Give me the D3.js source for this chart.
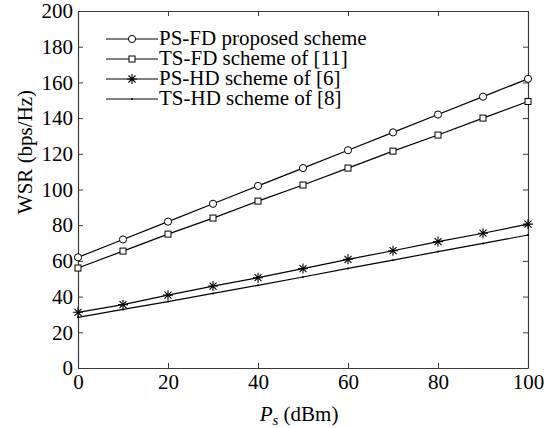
<!DOCTYPE html>
<html>
<head>
<meta charset="utf-8">
<script src="https://cdn.jsdelivr.net/npm/d3@7"></script>
<style>
  body { margin: 0; background: #fff; }
  svg text { font-family: "Liberation Serif", "Times New Roman", serif !important; fill: #000; }
</style>
</head>
<body>
<div id="chart"></div>
<script>
// data
const ps = [0, 10, 20, 30, 40, 50, 60, 70, 80, 90, 100];
const psFD = [62, 72, 82, 92, 102, 112, 122, 132, 142, 152, 162];
const tsFD = [56, 65.5, 75, 84, 93.5, 102.5, 112, 121.5, 130.5, 140, 149.3];
const psHD = [31.2, 35.5, 40.8, 45.9, 50.6, 55.7, 60.9, 65.7, 70.8, 75.5, 80.6];
const tsHD = [28.4, 32.8, 37.2, 41.8, 46.3, 51, 55.8, 60.4, 65.2, 69.8, 74.5];
const names = ["PS-FD proposed scheme", "TS-FD scheme of [11]", "PS-HD scheme of [6]", "TS-HD scheme of [8]"];
const xTicks = [0, 20, 40, 60, 80, 100];
const yTicks = [0, 20, 40, 60, 80, 100, 120, 140, 160, 180, 200];

const svgWidth = 551, svgHeight = 428;
const plotLeft = 78, plotRight = 528, plotTop = 11, plotBottom = 368;

const svg = d3.select("#chart")
    .append("svg")
    .attr("width", svgWidth)
    .attr("height", svgHeight);

const x = d3.scaleLinear().domain([0, 100]).range([plotLeft, plotRight]);
const y = d3.scaleLinear().domain([0, 200]).range([plotBottom, plotTop]);

const axisColor = "#3a3a3a";
const fontSize = 21;

// axes with inward ticks on all four sides
function styleAxis(g) {
    g.attr("font-family", "Liberation Serif").attr("font-size", fontSize);
    g.select(".domain").attr("stroke", axisColor).attr("stroke-width", 1.2);
    g.selectAll(".tick line").attr("stroke", axisColor).attr("stroke-width", 1);
    g.selectAll("text").attr("fill", "#000");
}
svg.append("g")
    .attr("transform", `translate(0,${plotBottom})`)
    .call(d3.axisBottom(x).tickValues(xTicks).tickSizeInner(-5).tickSizeOuter(0).tickPadding(6))
    .call(styleAxis);
svg.append("g")
    .attr("transform", `translate(0,${plotTop})`)
    .call(d3.axisTop(x).tickValues(xTicks).tickSizeInner(-5).tickSizeOuter(0).tickFormat(""))
    .call(styleAxis);
svg.append("g")
    .attr("transform", `translate(${plotLeft},0)`)
    .call(d3.axisLeft(y).tickValues(yTicks).tickSizeInner(-5).tickSizeOuter(0).tickPadding(5))
    .call(styleAxis);
svg.append("g")
    .attr("transform", `translate(${plotRight},0)`)
    .call(d3.axisRight(y).tickValues(yTicks).tickSizeInner(-5).tickSizeOuter(0).tickFormat(""))
    .call(styleAxis);

// axis labels
svg.append("text")
    .attr("transform", "translate(32,152) rotate(-90)")
    .attr("text-anchor", "middle")
    .style("font-size", fontSize + "px")
    .text("WSR (bps/Hz)");
const xl = svg.append("text")
    .attr("x", 299)
    .attr("y", 421)
    .attr("text-anchor", "middle")
    .style("font-size", fontSize + "px");
xl.append("tspan").style("font-style", "italic").text("P");
xl.append("tspan").style("font-style", "italic").style("font-size", "15px").attr("dy", 4).text("s");
xl.append("tspan").attr("dy", -4).text(" (dBm)");

// markers
function drawMarker(g, type, cx, cy) {
    if (type === "circle") {
        g.append("circle").attr("cx", cx).attr("cy", cy).attr("r", 3.6)
            .attr("fill", "#fff").attr("stroke", "#000").attr("stroke-width", 1);
    } else if (type === "square") {
        g.append("rect").attr("x", cx - 3).attr("y", cy - 3).attr("width", 6).attr("height", 6)
            .attr("fill", "#fff").attr("stroke", "#000").attr("stroke-width", 1);
    } else if (type === "star") {
        const r = 5;
        g.append("path")
            .attr("d", `M${cx - r},${cy}L${cx + r},${cy}M${cx},${cy - r}L${cx},${cy + r}` +
                `M${cx - r * 0.7},${cy - r * 0.7}L${cx + r * 0.7},${cy + r * 0.7}` +
                `M${cx - r * 0.7},${cy + r * 0.7}L${cx + r * 0.7},${cy - r * 0.7}`)
            .attr("stroke", "#000").attr("stroke-width", 1.1);
    } else {
        g.append("circle").attr("cx", cx).attr("cy", cy).attr("r", 1).attr("fill", "#000");
    }
}

const series = [
    { values: psFD, marker: "circle" },
    { values: tsFD, marker: "square" },
    { values: psHD, marker: "star" },
    { values: tsHD, marker: "dot" }
];

const line = d3.line().x((d, i) => x(ps[i])).y(d => y(d));
series.forEach(s => {
    const g = svg.append("g");
    g.append("path")
        .attr("d", line(s.values))
        .attr("fill", "none")
        .attr("stroke", "#000")
        .attr("stroke-width", 1.2);
    s.values.forEach((v, i) => drawMarker(g, s.marker, x(ps[i]), y(v)));
});

// legend
const legend = svg.append("g");
names.forEach((name, i) => {
    const ly = 39 + i * 20;
    const g = legend.append("g");
    g.append("line").attr("x1", 106).attr("x2", 158).attr("y1", ly).attr("y2", ly)
        .attr("stroke", "#000").attr("stroke-width", 1.2);
    drawMarker(g, series[i].marker, 132, ly);
    g.append("text").attr("x", 159).attr("y", ly + 6)
        .style("font-size", fontSize + "px").text(name);
});
</script>
</body>
</html>
